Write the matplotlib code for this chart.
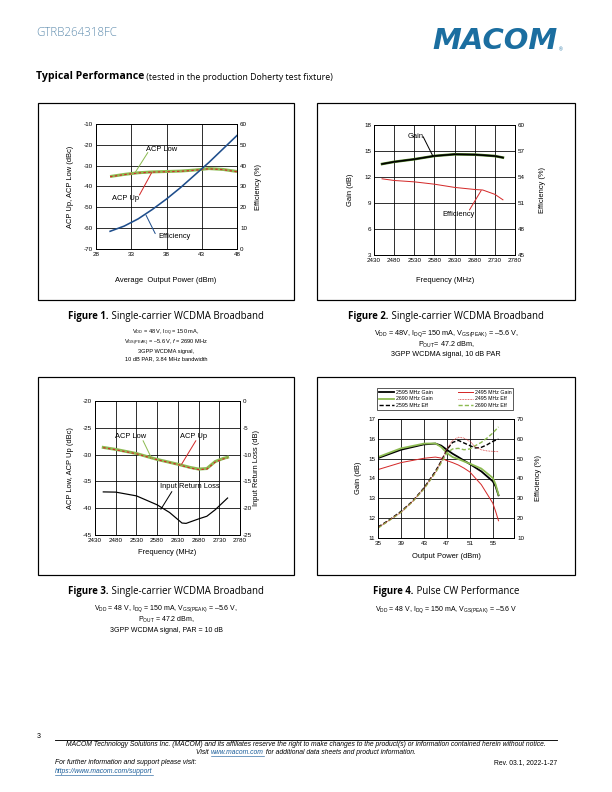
import matplotlib
matplotlib.use('Agg')
import matplotlib.pyplot as plt
from matplotlib.patches import Rectangle
from matplotlib.lines import Line2D

plt.rcParams['font.family'] = ['Liberation Sans', 'DejaVu Sans']
plt.rcParams['mathtext.fontset'] = 'custom'
plt.rcParams['mathtext.rm'] = 'Liberation Sans'
plt.rcParams['mathtext.it'] = 'Liberation Sans:italic'
plt.rcParams['axes.unicode_minus'] = False

# ---- Figure 1: ACP / efficiency vs average output power
pout1 = [30, 32, 34, 36, 38, 40, 42, 44, 46, 48]
acp_low1 = [-35.2, -34.2, -33.4, -33.0, -32.8, -32.6, -32.1, -31.4, -31.8, -32.8]
acp_up1 = [-35.3, -34.3, -33.5, -33.1, -32.9, -32.7, -32.2, -31.5, -31.9, -32.9]
eff1 = [8.5, 11.0, 14.5, 19.0, 24.0, 29.5, 35.5, 41.5, 48.0, 54.5]

# ---- Figure 2: gain / efficiency vs frequency
freq2 = [2450, 2480, 2530, 2580, 2630, 2680, 2700, 2730, 2750]
gain2 = [13.5, 13.75, 14.05, 14.43, 14.62, 14.58, 14.52, 14.42, 14.24]
eff2 = [53.79, 53.6, 53.44, 53.17, 52.8, 52.56, 52.5, 52.0, 51.37]

# ---- Figure 3: ACP / input return loss vs frequency
freq3 = [2450, 2480, 2530, 2580, 2630, 2660, 2680, 2700, 2720, 2740, 2750]
acp_low3 = [-28.66, -29.03, -29.8, -30.9, -31.8, -32.4, -32.7, -32.6, -31.3, -30.7, -30.5]
acp_up3 = [-28.7, -29.1, -29.85, -30.95, -31.85, -32.5, -32.8, -32.7, -31.4, -30.8, -30.6]
freq3_irl = [2450, 2480, 2530, 2580, 2610, 2640, 2650, 2680, 2700, 2720, 2750]
irl3 = [-16.96, -17.0, -17.7, -19.37, -20.8, -22.77, -22.83, -22.0, -21.5, -20.3, -18.1]

# ---- Figure 4: pulsed CW gain / efficiency vs output power
pout4 = [35, 39, 43, 45, 46, 47, 48, 49, 50, 51, 53, 55, 55.5, 56]
gain_2595 = [15.03, 15.45, 15.72, 15.76, 15.66, 15.45, 15.25, 15.08, 14.9, 14.73, 14.36, 13.86, 13.6, 13.15]
gain_2690 = [15.08, 15.52, 15.76, 15.77, 15.59, 15.29, 15.08, 14.98, 14.86, 14.75, 14.5, 14.03, 13.7, 13.18]
gain_2495 = [14.45, 14.8, 15.02, 15.08, 15.03, 14.9, 14.8, 14.68, 14.52, 14.33, 13.69, 12.76, 12.34, 11.87]
pout4e = [35, 37, 39, 41, 43, 45, 46, 47, 48, 49, 50, 51, 52, 53, 54, 55, 56]
eff_2595 = [15.5, 19.2, 23.4, 28.5, 35.2, 43.6, 48.7, 54.5, 58.2, 59.2, 57.9, 56.6, 55.4, 55.7, 57.0, 58.7, 59.9]
eff_2690 = [15.0, 18.9, 22.9, 28.2, 34.7, 42.8, 47.8, 52.9, 54.9, 55.2, 54.5, 54.9, 56.6, 58.2, 60.4, 62.9, 66.0]
eff_2495 = [15.2, 19.0, 23.0, 28.3, 35.0, 43.0, 48.7, 54.9, 59.2, 60.8, 60.4, 58.7, 55.9, 54.5, 53.9, 53.7, 53.5]

RED = '#d42a2a'
GREEN = '#8dbb52'
BLUE = '#1f4e8c'
LINK = '#1b5e9a'
W, H = 612.0, 792.0
TICK = 6.3
LAB = 7.5

fig = plt.figure(figsize=(8.5, 11), dpi=72)


def rect(l, t, r, b):
    return [l / W, 1 - b / H, (r - l) / W, (b - t) / H]


def ftext(x, y, s, **kw):
    return fig.text(x / W, 1 - y / H, s, **kw)


def run(x, y, parts, align='center'):
    # several differently styled pieces of text on one baseline (y in pixels from top)
    r = fig.canvas.get_renderer()
    arts = [fig.text(0, 1 - y / H, s, va='baseline', **kw) for s, kw in parts]
    widths = [a.get_window_extent(r).width for a in arts]
    cx = x - sum(widths) / 2 if align == 'center' else x
    spans = []
    for a, w in zip(arts, widths):
        a.set_x(cx / W)
        spans.append((cx, cx + w))
        cx += w
    return spans


def underline(x0, x1, y, color):
    fig.add_artist(Line2D([x0 / W, x1 / W], [1 - y / H, 1 - y / H], color=color, lw=0.6,
                          transform=fig.transFigure))


def box(l, t, r, b):
    fig.patches.append(Rectangle((l / W, 1 - b / H), (r - l) / W, (b - t) / H,
                                 transform=fig.transFigure, fill=False,
                                 edgecolor='black', linewidth=1.2))


def style(ax, ax2):
    for a in (ax, ax2):
        a.tick_params(length=0, labelsize=TICK, pad=3)
        for sp in a.spines.values():
            sp.set_linewidth(1.0)
            sp.set_color('black')
    ax.grid(True, color='black', linewidth=0.8)
    ax.set_axisbelow(True)


def leader(ax, p0, p1, color):
    ax.annotate('', xy=p1, xytext=p0,
                arrowprops=dict(arrowstyle='-', color=color, lw=1.0, shrinkA=0, shrinkB=0))


# boxes
box(38, 103, 294, 300)
box(317, 103, 575, 300)
box(38, 377, 294, 575)
box(317, 377, 575, 575)

# ---------------- Figure 1
ax = fig.add_axes(rect(96, 124, 237, 249))
axr = ax.twinx()
ax.set_xlim(28, 48)
ax.set_xticks([28, 33, 38, 43, 48])
ax.set_ylim(-70, -10)
ax.set_yticks(range(-70, -9, 10))
axr.set_ylim(0, 60)
axr.set_yticks(range(0, 61, 10))
style(ax, axr)
ax.plot(pout1, acp_low1, color=GREEN, lw=3.0, solid_capstyle='butt')
ax.plot(pout1, acp_up1, color=RED, lw=1.2, ls=(0, (2, 2)))
axr.plot(pout1, eff1, color=BLUE, lw=1.6)
ax.text(35.1, -22.4, 'ACP Low', fontsize=LAB, va='center')
leader(ax, (35.35, -23.7), (33.55, -33.3), GREEN)
ax.text(30.27, -46.0, 'ACP Up', fontsize=LAB, va='center')
leader(ax, (34.16, -44.1), (35.9, -33.3), RED)
ax.text(36.9, -63.9, 'Efficiency', fontsize=LAB, va='center')
leader(ax, (36.4, -62.6), (35.1, -53.8), BLUE)
ftext(71, 187, 'ACP Up, ACP Low (dBc)', fontsize=LAB, rotation=90, ha='center', va='center')
ftext(258, 187, 'Efficiency (%)', fontsize=LAB, rotation=90, ha='center', va='center')
ftext(166, 281, 'Average  Output Power (dBm)', fontsize=LAB, ha='center', va='center')

# ---------------- Figure 2
ax = fig.add_axes(rect(374, 125, 515, 255))
axr = ax.twinx()
ax.set_xlim(2430, 2780)
ax.set_xticks(range(2430, 2781, 50))
ax.set_ylim(3, 18)
ax.set_yticks(range(3, 19, 3))
axr.set_ylim(45, 60)
axr.set_yticks(range(45, 61, 3))
style(ax, axr)
ax.plot(freq2, gain2, color='#4a7a20', lw=2.6)
ax.plot(freq2, gain2, color='black', lw=1.6)
axr.plot(freq2, eff2, color=RED, lw=1.0)
ax.text(2512.7, 16.7, 'Gain', fontsize=LAB, va='center')
leader(ax, (2552, 16.65), (2576, 14.43), 'black')
ax.text(2599.6, 7.7, 'Efficiency', fontsize=LAB, va='center')
leader(ax, (2667, 8.2), (2696, 10.44), RED)
ftext(350, 190, 'Gain (dB)', fontsize=LAB, rotation=90, ha='center', va='center')
ftext(543, 190, 'Efficiency (%)', fontsize=LAB, rotation=90, ha='center', va='center')
ftext(445, 280, 'Frequency (MHz)', fontsize=LAB, ha='center', va='center')

# ---------------- Figure 3
ax = fig.add_axes(rect(95, 401, 240, 535))
axr = ax.twinx()
ax.set_xlim(2430, 2780)
ax.set_xticks(range(2430, 2781, 50))
ax.set_ylim(-45, -20)
ax.set_yticks(range(-45, -19, 5))
axr.set_ylim(-25, 0)
axr.set_yticks(range(-25, 1, 5))
style(ax, axr)
ax.plot(freq3, acp_low3, color=GREEN, lw=3.0)
ax.plot(freq3, acp_up3, color=RED, lw=1.2, ls=(0, (2, 2)))
axr.plot(freq3_irl, irl3, color='black', lw=1.2)
ax.text(2477.6, -26.56, 'ACP Low', fontsize=LAB, va='center')
leader(ax, (2546, -27.4), (2567, -30.77), GREEN)
ax.text(2634.8, -26.56, 'ACP Up', fontsize=LAB, va='center')
leader(ax, (2673.5, -27.4), (2639, -31.8), RED)
ax.text(2586.5, -35.9, 'Input Return Loss', fontsize=LAB, va='center')
leader(ax, (2615.5, -36.9), (2589, -40.2), 'black')
ftext(70, 468, 'ACP Low, ACP Up (dBc)', fontsize=LAB, rotation=90, ha='center', va='center')
ftext(257, 468, 'Input Return Loss (dB)', fontsize=LAB, rotation=90, ha='center', va='center')
ftext(167, 553, 'Frequency (MHz)', fontsize=LAB, ha='center', va='center')

# ---------------- Figure 4
ax = fig.add_axes(rect(378, 419, 514, 538))
axr = ax.twinx()
ax.set_xlim(35, 58.7)
ax.set_xticks(range(35, 56, 4))
ax.set_ylim(11, 17)
ax.set_yticks(range(11, 18))
axr.set_ylim(10, 70)
axr.set_yticks(range(10, 71, 10))
style(ax, axr)
ax.plot(pout4, gain_2595, color='black', lw=1.8)
ax.plot(pout4, gain_2690, color=GREEN, lw=1.8)
ax.plot(pout4, gain_2495, color=RED, lw=1.0)
axr.plot(pout4e, eff_2595, color='black', lw=1.4, ls=(0, (3, 1.5)))
axr.plot(pout4e, eff_2690, color=GREEN, lw=1.4, ls=(0, (3, 1.5)))
axr.plot(pout4e, eff_2495, color=RED, lw=0.8, ls=(0, (1, 1)))
handles = [
    Line2D([], [], color='black', lw=1.8),
    Line2D([], [], color=GREEN, lw=1.8),
    Line2D([], [], color='black', lw=1.4, ls=(0, (3, 1.5))),
    Line2D([], [], color=RED, lw=1.0),
    Line2D([], [], color=RED, lw=0.8, ls=(0, (1, 1))),
    Line2D([], [], color=GREEN, lw=1.4, ls=(0, (3, 1.5))),
]
labels = ['2595 MHz Gain', '2690 MHz Gain', '2595 MHz Eff',
          '2495 MHz Gain', '2495 MHz Eff', '2690 MHz Eff']
leg = ax.legend(handles, labels, ncol=2, fontsize=5.2, loc='center',
                bbox_to_anchor=(377 / W, 1 - 414 / H, 136 / W, 30 / H),
                bbox_transform=fig.transFigure, mode='expand',
                frameon=True, fancybox=False, borderpad=0.3, labelspacing=0.3,
                handlelength=3.0, handletextpad=0.3, columnspacing=0.4,
                borderaxespad=0)
leg.get_frame().set_edgecolor('black')
leg.get_frame().set_linewidth(0.8)
ftext(358, 478, 'Gain (dB)', fontsize=LAB, rotation=90, ha='center', va='center')
ftext(539, 478, 'Efficiency (%)', fontsize=LAB, rotation=90, ha='center', va='center')
ftext(446, 557, 'Output Power (dBm)', fontsize=LAB, ha='center', va='center')

# ---------------- page text
ftext(36, 33, 'GTRB264318FC', fontsize=11.5, color='#5d8bad', va='center', family='Open Sans',
      fontweight='light')
ftext(558, 41, 'MACOM', fontsize=29, color='#1b6ea0', fontweight='bold', style='italic',
      ha='right', va='center', family='DejaVu Sans')
ftext(559, 50, '®', fontsize=5, color='#1b6ea0', ha='left', va='center')
run(36, 79.5, [('Typical Performance', dict(fontsize=10.5, fontweight='bold', family='Open Sans')),
               (' (tested in the production Doherty test fixture)', dict(fontsize=8.8, family='Open Sans'))],
    align='left')

cb = dict(fontsize=9.6, fontweight='bold', family='Open Sans')
cr = dict(fontsize=9.6, family='Open Sans')
run(166, 319, [('Figure 1.', cb), (' Single-carrier WCDMA Broadband', cr)])
run(446, 319, [('Figure 2.', cb), (' Single-carrier WCDMA Broadband', cr)])
run(166, 594, [('Figure 3.', cb), (' Single-carrier WCDMA Broadband', cr)])
run(446, 594, [('Figure 4.', cb), (' Pulse CW Performance', cr)])

sub1 = dict(fontsize=5.6, ha='center', va='baseline')
ftext(166, 334.5, r'V$_{\rm DD}$ = 48 V, I$_{\rm DQ}$ = 150 mA,', **sub1)
ftext(166, 344, r'V$_{\rm GS(PEAK)}$ = –5.6 V, $\it{f}$ = 2690 MHz', **sub1)
ftext(166, 352.5, '3GPP WCDMA signal,', **sub1)
ftext(166, 360.5, '10 dB PAR, 3.84 MHz bandwidth', **sub1)

sub2 = dict(fontsize=7.3, ha='center', va='center')
ftext(446, 334, r'V$_{\rm DD}$ = 48V, I$_{\rm DQ}$= 150 mA, V$_{\rm GS(PEAK)}$ = –5.6 V,', **sub2)
ftext(446, 345, r'P$_{\rm OUT}$= 47.2 dBm,', **sub2)
ftext(446, 354, '3GPP WCDMA signal, 10 dB PAR', **sub2)

sub3 = dict(fontsize=7.0, ha='center', va='center')
ftext(166, 609, r'V$_{\rm DD}$ = 48 V, I$_{\rm DQ}$ = 150 mA, V$_{\rm GS(PEAK)}$ = –5.6 V,', **sub3)
ftext(166, 620, r'P$_{\rm OUT}$ = 47.2 dBm,', **sub3)
ftext(166, 630, '3GPP WCDMA signal, PAR = 10 dB', **sub3)

ftext(446, 610, r'V$_{\rm DD}$ = 48 V, I$_{\rm DQ}$ = 150 mA, V$_{\rm GS(PEAK)}$ = –5.6 V', **sub3)

# footer
ftext(37, 737, '3', fontsize=7, va='center')
fig.add_artist(Line2D([55 / W, 557 / W], [1 - 740 / H, 1 - 740 / H], color='black', lw=0.9,
                      transform=fig.transFigure))
fi = dict(fontsize=6.8, style='italic')
ftext(306, 746.5, 'MACOM Technology Solutions Inc. (MACOM) and its affiliates reserve the right to make '
      'changes to the product(s) or information contained herein without notice.',
      ha='center', va='baseline', **fi)
spans = run(306, 754.5, [('Visit ', fi), ('www.macom.com', dict(color=LINK, **fi)),
                         (' for additional data sheets and product information.', fi)])
underline(spans[1][0], spans[1][1], 756, LINK)
ftext(55, 764, 'For further information and support please visit:', ha='left', va='baseline', **fi)
ftext(557, 764, 'Rev. 03.1, 2022-1-27', ha='right', va='baseline', fontsize=6.8)
sp = run(55, 773, [('https://www.macom.com/support', dict(color=LINK, **fi))], align='left')
underline(sp[0][0], sp[0][1], 775, LINK)

fig.savefig('out.png', dpi=72)
